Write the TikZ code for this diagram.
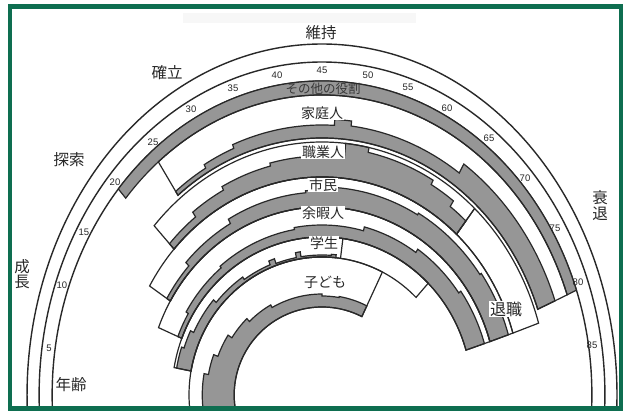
\documentclass[tikz,border=0pt]{standalone}
\usepackage{fontspec}
\setmainfont{Liberation Sans}
\newfontfamily\jp{Noto Sans CJK JP}
\definecolor{frameg}{RGB}{14,110,80}
\definecolor{ink}{RGB}{40,40,40}
\definecolor{bandgray}{RGB}{150,150,150}
\newcommand\rbK[1]{(1+0.19*((#1)-85)/266)}
\newcommand\rbP[2]{({322+(#1)/\rbK{#1}*cos(#2)},{15+(#1)*sin(#2)})}
\newcommand\rbA[3]{arc[start angle=#2,end angle=#3,x radius={(#1)/\rbK{#1}},y radius=#1]}
\newcommand\rbBand[4]{\rbP{#1}{#3} \rbA{#1}{#3}{#4} -- \rbP{#2}{#4} \rbA{#2}{#4}{#3} -- cycle}
\newcommand\rbSteps[4]{\rbP{#1}{#2} \rbA{#1}{#2}{#3} foreach \qb/\qlo/\qhi in {#4} { -- \rbP{\qb}{\qlo} \rbA{\qb}{\qlo}{\qhi} } -- cycle}
\begin{document}
\begin{tikzpicture}[x=1pt,y=1pt,
  ln/.style={draw=ink,line width=1.2pt,line join=miter},
  gr/.style={fill=bandgray,draw=ink,line width=1.2pt},
  role/.style={font=\jp\fontsize{14}{14}\selectfont,text=ink,fill=white,inner sep=1pt},
  stage/.style={font=\jp\fontsize{15.5}{15.5}\selectfont,text=ink,inner sep=1pt,align=center},
  age/.style={font=\fontsize{9.5}{9.5}\selectfont,text=ink,inner sep=0.5pt}]
\useasboundingbox (0,0) rectangle (628,410);
\fill[white] (0,0) rectangle (628,410);
\fill[black!3] (183,387) rectangle (416,397);
\begin{scope}
\clip (12,3) rectangle (618,404);
% outer arcs
\draw[ln,line width=1.4pt] \rbP{351}{-5} \rbA{351}{-5}{185};
\draw[ln,line width=1.4pt] \rbP{333}{-5} \rbA{333}{-5}{185};
\draw[ln,line width=1.4pt] \rbP{314}{-5} \rbA{314}{-5}{185};
% gray fills
\path[gr] \rbBand{314}{300}{139}{19.5};
\path[gr] \rbSteps{257}{129}{19.5}{282/19.5/55, 271/55/83, 276/83/87, 270/87/112, 266/112/120, 262/120/129};
\path[gr] \rbSteps{218}{138}{47.5}{236/47.5/53, 243/53/60, 248/60/78, 253/78/84, 239/84/104, 236/104/118, 232/118/128, 226/128/138};
\path[gr] \rbSteps{188}{150}{16.5}{212/16.5/35, 210/35/60, 208/60/86, 205/86/95, 203/95/120, 198/120/138, 193/138/150};
\path[gr] \rbSteps{158}{159}{16.5}{181/16.5/35, 178/35/55, 174/55/75, 170/75/100, 168/100/130, 166/130/150, 163/150/159};
\path[gr] \rbSteps{138}{170}{84}{141/84/86, 140/86/99, 145/99/101, 140/101/110, 145/110/112.5, 141/112.5/125, 144/125/140, 148/140/155, 152/155/162, 155/162/170};
\path[gr] \rbSteps{88}{188}{63}{100/63/80, 99/80/90, 101/90/120, 104/120/135, 108/135/148, 113/148/160, 118/160/170, 123/170/188};
% band outlines
\path[ln] \rbBand{300}{257}{129}{19.5};
\path[ln] \rbBand{253}{218}{138}{47.5};
\path[ln] \rbBand{253}{218}{47.5}{16.5};
\path[ln] \rbBand{218}{188}{150}{16.5};
\path[ln] \rbBand{188}{158}{159}{16.5};
\path[ln] \rbBand{158}{138}{170}{45};
\draw[ln] \rbP{138}{82} -- \rbP{158}{82};
\path[ln] \rbBand{138}{88}{188}{63};
\end{scope}
% role labels
\node[font=\jp\fontsize{12.5}{12.5}\selectfont,text=black!78,inner sep=0pt] (other) at (323,321) {その他の役割};
\node[role] (home) at (322,297) {家庭人};
\node[role] (work) at (323,258) {職業人};
\node[role] (citizen) at (323,225) {市民};
\node[role] (leisure) at (323,197) {余暇人};
\node[role] (student) at (324,167) {学生};
\node[role] (child) at (325,128) {子ども};
\node[role,font=\jp\fontsize{16}{16}\selectfont] (retire) at (506,101) {退職};
% stage labels
\node[stage] (maint) at (321,377) {維持};
\node[stage] (estab) at (167,337) {確立};
\node[stage] (explor) at (69,250) {探索};
\node[stage,font=\jp\fontsize{15.5}{14.5}\selectfont] (growth) at (22,136) {成\\長};
\node[stage,font=\jp\fontsize{15.5}{16}\selectfont] (decline) at (600,204) {衰\\退};
\node[stage,fill=white] (agelbl) at (71,25) {年齢};
% ages
\node[age] (a5) at (49,62) {5};
\node[age] (a10) at (62,125) {10};
\node[age] (a15) at (84,178) {15};
\node[age] (a20) at (115,228) {20};
\node[age] (a25) at (153,268) {25};
\node[age] (a30) at (191,301) {30};
\node[age] (a35) at (233,322) {35};
\node[age] (a40) at (277,335) {40};
\node[age] (a45) at (322,340) {45};
\node[age] (a50) at (368,335) {50};
\node[age] (a55) at (408,323) {55};
\node[age] (a60) at (447,302) {60};
\node[age] (a65) at (489,272) {65};
\node[age] (a70) at (525,232) {70};
\node[age] (a75) at (555,182) {75};
\node[age] (a80) at (578,128) {80};
\node[age] (a85) at (592,65) {85};
% frame
\draw[frameg,line width=4.5pt] (10,403.5) rectangle (621,1.5);
\end{tikzpicture}
\end{document}
